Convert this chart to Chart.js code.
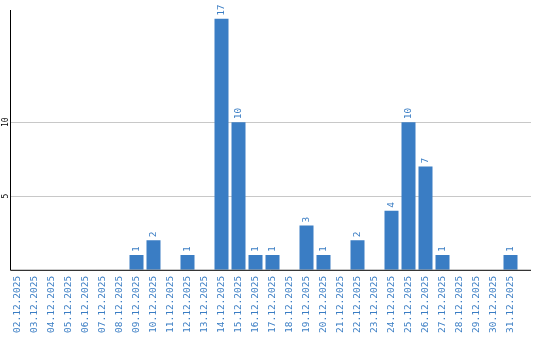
<!DOCTYPE html>
<html>
<head>
<meta charset="utf-8">
<script src="https://cdn.jsdelivr.net/npm/chart.js@4"></script>
<style>
  html, body { margin: 0; padding: 0; background: #fff; }
  #wrap { width: 540px; height: 340px; }
</style>
</head>
<body>
<div id="wrap"><canvas id="myChart" width="540" height="340"></canvas></div>
<script>
// days of december shown on the x axis
const days = [
    "02.12.2025", "03.12.2025", "04.12.2025", "05.12.2025", "06.12.2025",
    "07.12.2025", "08.12.2025", "09.12.2025", "10.12.2025", "11.12.2025",
    "12.12.2025", "13.12.2025", "14.12.2025", "15.12.2025", "16.12.2025",
    "17.12.2025", "18.12.2025", "19.12.2025", "20.12.2025", "21.12.2025",
    "22.12.2025", "23.12.2025", "24.12.2025", "25.12.2025", "26.12.2025",
    "27.12.2025", "28.12.2025", "29.12.2025", "30.12.2025", "31.12.2025"
];
// count per day
const counts = [
    0, 0, 0, 0, 0,
    0, 0, 1, 2, 0,
    1, 0, 17, 10, 1,
    1, 0, 3, 1, 0,
    2, 0, 4, 10, 7,
    1, 0, 0, 0, 1
];
// y axis ticks that have a label + grid line
const yTicks = [5, 10];

const blue = "#3a7dc4";
const monoFont = "'DejaVu Sans Mono', 'Liberation Mono', monospace";

// grid lines go a bit past the last bar, so they are drawn here
const gridPlugin = {
    id: "gridlines",
    beforeDatasetsDraw(chart) {
        const ctx = chart.ctx;
        const area = chart.chartArea;
        const yScale = chart.scales.y;
        ctx.save();
        ctx.strokeStyle = "#c8c8c8";
        ctx.lineWidth = 1;
        yTicks.forEach((v) => {
            const y = Math.round(yScale.getPixelForValue(v)) + 0.5;
            ctx.beginPath();
            ctx.moveTo(area.left + 2, y);
            ctx.lineTo(area.right + 12, y);
            ctx.stroke();
        });
        ctx.restore();
    }
};

// draws the axis lines, the y labels and the numbers above the bars
const extrasPlugin = {
    id: "extras",
    afterDatasetsDraw(chart) {
        const ctx = chart.ctx;
        const area = chart.chartArea;
        const yScale = chart.scales.y;

        ctx.save();
        // y labels, rotated
        ctx.fillStyle = "#000";
        ctx.font = "8px " + monoFont;
        ctx.textAlign = "center";
        ctx.textBaseline = "middle";
        yTicks.forEach((v) => {
            ctx.save();
            ctx.translate(area.left - 3, yScale.getPixelForValue(v));
            ctx.rotate(-Math.PI / 2);
            ctx.fillText(String(v), 0, 0);
            ctx.restore();
        });

        // values above bars
        ctx.fillStyle = blue;
        ctx.font = "9.5px " + monoFont;
        ctx.textAlign = "left";
        const meta = chart.getDatasetMeta(0);
        meta.data.forEach((bar, i) => {
            if (!counts[i]) return;
            ctx.save();
            ctx.translate(bar.x + 0.5, bar.y - 3);
            ctx.rotate(-Math.PI / 2);
            ctx.fillText(String(counts[i]), 0, 0);
            ctx.restore();
        });

        // axis lines
        ctx.strokeStyle = "#000";
        ctx.lineWidth = 1;
        ctx.beginPath();
        ctx.moveTo(area.left + 1.5, area.top);
        ctx.lineTo(area.left + 1.5, area.bottom + 0.5);
        ctx.lineTo(area.right + 12, area.bottom + 0.5);
        ctx.stroke();
        ctx.restore();
    }
};

const ctx = document.getElementById("myChart").getContext("2d");
const chart = new Chart(ctx, {
    type: "bar",
    data: {
        labels: days,
        datasets: [{
            data: counts,
            backgroundColor: blue,
            borderWidth: 0,
            categoryPercentage: 1,
            barPercentage: 14 / 17
        }]
    },
    options: {
        responsive: false,
        animation: false,
        layout: {
            padding: { left: 9, right: 21, top: 10, bottom: 1 }
        },
        plugins: {
            legend: { display: false },
            tooltip: { enabled: false }
        },
        scales: {
            x: {
                grid: { display: false, drawTicks: false },
                border: { display: false },
                ticks: {
                    color: blue,
                    font: { family: monoFont, size: 9.5 },
                    minRotation: 90,
                    maxRotation: 90,
                    autoSkip: false,
                    padding: 6
                }
            },
            y: {
                min: 0,
                max: 17.6,
                afterBuildTicks: (axis) => {
                    axis.ticks = yTicks.map((v) => ({ value: v }));
                },
                grid: { display: false, drawTicks: false },
                border: { display: false },
                ticks: { display: false }
            }
        }
    },
    plugins: [gridPlugin, extrasPlugin]
});
</script>
</body>
</html>
